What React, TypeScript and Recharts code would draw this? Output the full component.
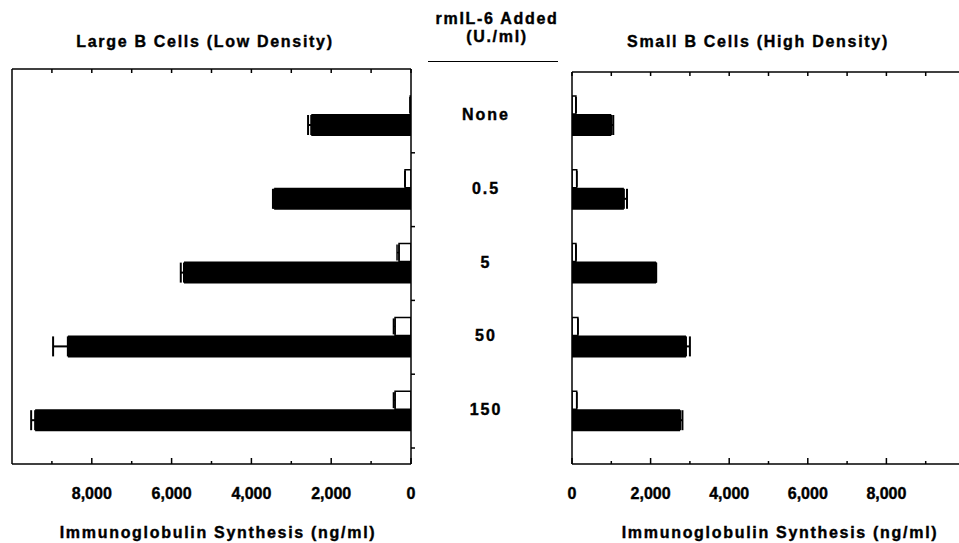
import React from 'react';
import { BarChart, Bar, XAxis, YAxis, ErrorBar, ReferenceLine } from 'recharts';

const doses = ['None', '0.5', '5', '50', '150'];
const largeOpen = [20, 150, 300, 400, 400];
const largeOpenErr = [0, 0, 50, 40, 40];
const largeBlack = [2500, 3430, 5690, 8600, 9420];
const largeBlackErr = [80, 30, 80, 370, 100];
const smallOpen = [100, 120, 100, 150, 120];
const smallOpenErr = [0, 0, 0, 0, 0];
const smallBlack = [1000, 1320, 2140, 2900, 2750];
const smallBlackErr = [50, 80, 0, 100, 60];
const axisTicks = [0, 1000, 2000, 3000, 4000, 5000, 6000, 7000, 8000, 9000];
const labeledTicks = [0, 2000, 4000, 6000, 8000];

const largeData = doses.map((d, i) => ({
  dose: d,
  open: largeOpen[i],
  openErr: [0, largeOpenErr[i]],
  black: largeBlack[i],
  blackErr: [0, largeBlackErr[i]],
}));
const smallData = doses.map((d, i) => ({
  dose: d,
  open: smallOpen[i],
  openErr: [0, smallOpenErr[i]],
  black: smallBlack[i],
  blackErr: [0, smallBlackErr[i]],
}));

const FONT = '"Liberation Sans", Arial, Helvetica, sans-serif';
const fmt = (v: number) => v.toLocaleString('en-US');

const BottomTick = (props: any) => {
  const { x, y, payload } = props;
  const v = payload.value;
  const major = labeledTicks.includes(v);
  return (
    <g>
      <line x1={x} x2={x} y1={y} y2={y - (major ? 6 : 3)} stroke="#000" strokeWidth={1.5} />
      {major && (
        <text x={x} y={y + 35} textAnchor="middle" fontFamily={FONT} fontWeight="bold" fontSize={16} fill="#000" stroke="#000" strokeWidth={0.4}>
          {fmt(v)}
        </text>
      )}
    </g>
  );
};

const TopTick = (props: any) => {
  const { x, y } = props;
  return <line x1={x} x2={x} y1={y} y2={y + 4} stroke="#000" strokeWidth={1.5} />;
};

const DoseTick = (props: any) => {
  const { x, y, payload } = props;
  const off = payload.offset ?? 37;
  return (
    <g>
      <line x1={x} x2={x + 4} y1={y + off} y2={y + off} stroke="#000" strokeWidth={1.5} />
      <text x={x + 75} y={y + 4} textAnchor="middle" fontFamily={FONT} fontWeight="bold" fontSize={16} letterSpacing={2} fill="#000" stroke="#000" strokeWidth={0.4}>
        {payload.value}
      </text>
    </g>
  );
};

const textStyle: React.CSSProperties = {
  position: 'absolute',
  fontFamily: FONT,
  fontWeight: 'bold',
  fontSize: 16,
  letterSpacing: 1.7,
  color: '#000',
  whiteSpace: 'nowrap',
  transform: 'translate(-50%, -50%)',
  lineHeight: '18px',
  WebkitTextStroke: '0.4px #000',
};

export default function App() {
  return (
    <div style={{ position: 'fixed', left: 0, top: 0, width: 959, height: 543, overflow: 'hidden', background: '#fff' }}>
      <div style={{ position: 'absolute', left: 0, top: 0 }}>
        <BarChart
          width={540}
          height={543}
          data={largeData}
          layout="vertical"
          margin={{ top: 59, right: 29, bottom: 39, left: 12 }}
          barGap={0}
        >
          <XAxis
            type="number"
            domain={[0, 10000]}
            reversed
            ticks={axisTicks}
            interval={0}
            tick={<BottomTick />}
            tickLine={false}
            tickSize={0}
            tickMargin={0}
            height={40}
            axisLine={{ stroke: '#000', strokeWidth: 1.5 }}
            allowDataOverflow
          />
          <XAxis
            xAxisId="top"
            orientation="top"
            type="number"
            domain={[0, 10000]}
            reversed
            ticks={axisTicks}
            interval={0}
            tick={<TopTick />}
            tickLine={false}
            tickSize={0}
            tickMargin={0}
            height={10}
            axisLine={{ stroke: '#000', strokeWidth: 1.5 }}
            allowDataOverflow
          />
          <YAxis
            type="category"
            dataKey="dose"
            orientation="right"
            width={100}
            interval={0}
            tick={<DoseTick />}
            tickLine={false}
            tickSize={0}
            tickMargin={0}
            padding={{ top: 10, bottom: 16 }}
            axisLine={{ stroke: '#000', strokeWidth: 1.5 }}
          />
          <ReferenceLine x={10000} stroke="#000" strokeWidth={1.5} />
          <Bar dataKey="open" fill="#fff" stroke="#000" strokeWidth={1.5} barSize={18} isAnimationActive={false}>
            <ErrorBar dataKey="openErr" direction="x" width={8} stroke="#000" strokeWidth={1.5} />
          </Bar>
          <Bar dataKey="black" fill="#000" barSize={22} isAnimationActive={false}>
            <ErrorBar dataKey="blackErr" direction="x" width={10} stroke="#000" strokeWidth={2} />
          </Bar>
        </BarChart>
      </div>

      <div style={{ position: 'absolute', left: 480, top: 0 }}>
        <BarChart
          width={500}
          height={543}
          data={smallData}
          layout="vertical"
          margin={{ top: 62, right: 15, bottom: 39, left: 91 }}
          barGap={0}
        >
          <XAxis
            type="number"
            domain={[0, 10000]}
            ticks={axisTicks}
            interval={0}
            tick={<BottomTick />}
            tickLine={false}
            tickSize={0}
            tickMargin={0}
            height={40}
            axisLine={{ stroke: '#000', strokeWidth: 1.5 }}
            allowDataOverflow
          />
          <XAxis
            xAxisId="top"
            orientation="top"
            type="number"
            domain={[0, 10000]}
            ticks={axisTicks}
            interval={0}
            tick={<TopTick />}
            tickLine={false}
            tickSize={0}
            tickMargin={0}
            height={10}
            axisLine={{ stroke: '#000', strokeWidth: 1.5 }}
            allowDataOverflow
          />
          <YAxis
            type="category"
            dataKey="dose"
            orientation="left"
            width={1}
            tick={false}
            tickLine={false}
            padding={{ top: 7, bottom: 16 }}
            axisLine={{ stroke: '#000', strokeWidth: 1.5 }}
          />
          <Bar dataKey="open" fill="#fff" stroke="#000" strokeWidth={1.5} barSize={18} isAnimationActive={false}>
            <ErrorBar dataKey="openErr" direction="x" width={8} stroke="#000" strokeWidth={1.5} />
          </Bar>
          <Bar dataKey="black" fill="#000" barSize={22} isAnimationActive={false}>
            <ErrorBar dataKey="blackErr" direction="x" width={10} stroke="#000" strokeWidth={2} />
          </Bar>
        </BarChart>
      </div>

      <div style={{ ...textStyle, left: 205, top: 42 }}>Large B Cells (Low Density)</div>
      <div style={{ ...textStyle, left: 758, top: 42 }}>Small B Cells (High Density)</div>
      <div style={{ ...textStyle, left: 497, top: 19 }}>rmIL-6 Added</div>
      <div style={{ ...textStyle, left: 497, top: 37 }}>(U./ml)</div>
      <div style={{ position: 'absolute', left: 428, top: 61, width: 130, height: 0, borderTop: '1.5px solid #000' }} />
      <div style={{ ...textStyle, left: 218, top: 533 }}>Immunoglobulin Synthesis (ng/ml)</div>
      <div style={{ ...textStyle, left: 780, top: 533 }}>Immunoglobulin Synthesis (ng/ml)</div>
    </div>
  );
}
